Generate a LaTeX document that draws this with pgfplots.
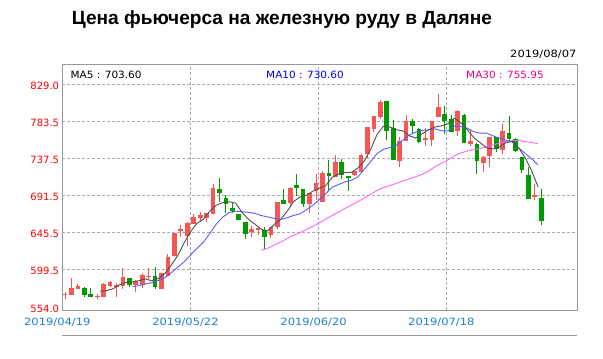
\documentclass[border=0pt]{standalone}
\usepackage{pgfplots}
\pgfplotsset{compat=1.18}
\usepackage{pgfplotstable}
\usepackage{fontspec}
\setmainfont{Liberation Sans}
\newfontfamily\labfont{DejaVu Sans}
\newfontfamily\datefont[FakeStretch=1.15]{DejaVu Sans}
\newfontfamily\legfont[FakeStretch=1.05]{DejaVu Sans}
\definecolor{cred}{RGB}{246,86,86}
\definecolor{cgreen}{RGB}{0,155,0}
\definecolor{boxgray}{RGB}{153,153,153}
\definecolor{gridgray}{RGB}{170,170,170}
\definecolor{datecol}{RGB}{30,128,208}
\definecolor{ma5col}{RGB}{80,80,80}
\definecolor{ma10col}{RGB}{90,90,255}
\definecolor{ma30col}{RGB}{255,100,255}

% up candles (close >= open)
\pgfplotstableread{
i o h l c
0 569.0 572.8 563.4 570.2
1 569.1 589.3 568.5 577.4
2 576.5 582.3 575.7 580.2
5 567.0 569.5 563.4 567.8
6 566.7 583.0 566.0 582.3
7 579.8 586.4 579.0 584.8
8 578.2 584.0 566.7 581.5
9 579.8 601.7 575.7 590.9
11 581.5 587.3 572.8 585.6
12 581.5 596.3 577.0 593.0
13 591.5 601.7 588.5 591.9
15 576.5 596.0 576.0 595.9
16 592.2 619.0 592.0 615.7
17 616.9 645.5 616.5 645.3
18 648.2 654.8 640.0 650.2
19 642.0 658.5 629.7 658.1
20 656.8 669.2 656.5 665.1
21 664.3 670.9 659.3 667.5
22 664.3 670.2 658.5 670.0
23 669.2 706.3 669.0 700.9
29 646.5 654.0 640.8 650.2
30 649.8 654.0 643.0 651.9
32 643.2 652.7 639.6 652.7
33 652.3 683.6 650.7 683.6
35 681.9 702.5 677.8 700.9
38 681.5 694.7 670.4 694.7
39 697.2 717.8 685.7 706.7
40 684.0 722.3 684.0 719.4
42 714.9 741.2 714.9 733.4
45 716.5 722.0 715.7 721.9
46 721.1 742.5 721.0 741.2
47 742.9 776.7 737.6 776.7
48 774.2 790.0 770.5 789.8
49 788.0 810.0 786.0 807.5
52 734.2 763.9 726.8 759.0
53 759.4 791.1 759.4 783.2
56 761.4 774.6 753.2 761.8
57 760.6 783.7 753.2 783.7
58 789.0 817.4 789.0 801.0
61 770.9 797.2 765.5 796.0
63 755.2 773.8 753.2 759.0
65 732.2 740.4 720.2 739.2
66 740.8 763.5 727.2 763.5
68 748.3 779.6 743.3 771.3
73 689.4 705.8 686.1 692.6
}\uptab

% down candles (close < open)
\pgfplotstableread{
i o h l c
3 577.4 579.0 566.7 569.1
4 570.0 577.0 566.7 566.7
10 589.7 589.7 578.2 581.5
14 592.2 602.9 575.7 579.0
24 699.7 713.3 684.0 694.3
25 688.9 692.0 669.6 681.5
26 676.6 682.0 669.6 672.9
27 668.8 669.0 661.0 661.8
28 658.9 659.0 638.3 644.5
31 648.6 653.1 624.3 640.8
34 686.1 699.7 681.5 681.5
36 704.2 717.8 691.0 701.3
37 699.7 699.7 677.0 681.5
41 719.4 735.1 698.4 715.7
43 733.4 736.7 712.4 716.5
44 715.7 715.7 696.8 714.1
50 808.4 808.4 760.2 771.7
51 775.4 784.9 735.9 735.9
54 783.7 786.1 768.4 777.1
55 773.8 775.0 757.0 758.1
59 792.3 802.2 767.2 784.1
60 785.7 791.1 770.5 770.5
62 791.1 792.3 756.1 756.1
64 754.8 756.1 717.8 734.6
67 763.5 763.5 745.8 749.1
69 768.4 789.8 759.4 761.4
70 761.4 763.1 745.8 747.0
71 739.2 739.2 719.0 723.5
72 716.9 727.2 687.7 687.7
74 688.5 699.7 655.2 660.5
}\downtab

\pgfplotsset{candle/.style={no markers, draw=none, forget plot,
  error bars/.cd, y dir=both, y explicit, error mark=none}}

\begin{document}
\begin{tikzpicture}
\begin{axis}[
  at={(62.3pt,-310pt)}, anchor=south west,
  scale only axis, width=515pt, height=245.7pt,
  xmin=-0.42, xmax=79.6, ymin=550.2, ymax=853.7,
  axis line style={draw=boxgray, line width=1pt},
  major tick length=0pt,
  xtick={19.5,39.4,59.25},
  xticklabels={2019/05/22,2019/06/20,2019/07/18},
  extra x ticks={-0.42}, extra x tick labels={2019/04/19},
  extra x tick style={grid=none},
  ytick={599.8333,645.6667,691.5,737.3333,783.1667,829},
  yticklabels={599.5,645.5,691.5,737.5,783.5,829.0},
  extra y ticks={554}, extra y tick labels={554.0},
  extra y tick style={grid=none},
  xmajorgrids, ymajorgrids,
  major grid style={gridgray, dash pattern=on 3pt off 2pt, line width=0.8pt},
  yticklabel style={font=\labfont\fontsize{10}{12}\selectfont, text=red, anchor=east, inner sep=0pt, xshift=-3pt, yshift=-1.5pt},
  xticklabel style={font=\datefont\fontsize{10}{12}\selectfont, text=datecol, anchor=base, inner sep=0pt, yshift=-15.7pt, xshift=-5pt},
]
% wicks
\addplot[candle, error bar style={draw=cred, line width=1pt}]
  table[x=i, y expr={(\thisrow{h}+\thisrow{l})/2}, y error expr={(\thisrow{h}-\thisrow{l})/2}] {\uptab};
\addplot[candle, error bar style={draw=cgreen, line width=1pt}]
  table[x=i, y expr={(\thisrow{h}+\thisrow{l})/2}, y error expr={(\thisrow{h}-\thisrow{l})/2}] {\downtab};
% bodies
\addplot[candle, error bar style={draw=cred, line width=4.7pt}]
  table[x=i, y expr={(\thisrow{o}+\thisrow{c})/2}, y error expr={max(abs(\thisrow{c}-\thisrow{o})/2,0.7)}] {\uptab};
\addplot[candle, error bar style={draw=cgreen, line width=4.7pt}]
  table[x=i, y expr={(\thisrow{o}+\thisrow{c})/2}, y error expr={max(abs(\thisrow{c}-\thisrow{o})/2,0.7)}] {\downtab};
% MA30
\addplot[ma30col, line width=0.9pt, mark=none] coordinates {
(30.5,624.03) (31.5,626.45) (32.5,630.26) (33.5,634.09) (34.5,638.53) (35.5,642.49)
(36.5,645.72) (37.5,649.49) (38.5,653.35) (39.5,657.95) (40.5,662.28) (41.5,666.96)
(42.5,671.12) (43.5,675.62) (44.5,679.82) (45.5,684.0) (46.5,688.38) (47.5,693.04)
(48.5,698.02) (49.5,701.57) (50.5,703.85) (51.5,706.82) (52.5,709.56) (53.5,712.32)
(54.5,714.87) (55.5,717.84) (56.5,721.9) (57.5,727.12) (58.5,731.58) (59.5,735.53)
(60.5,740.71) (61.5,744.15) (62.5,746.67) (63.5,748.44) (64.5,749.71) (65.5,751.79)
(66.5,754.04) (67.5,756.59) (68.5,758.42) (69.5,759.34) (70.5,759.6) (71.5,758.07)
(72.5,757.28) (73.5,755.49)};
% MA10
\addplot[ma10col, line width=0.9pt, mark=none] coordinates {
(10.5,579.04) (11.5,580.32) (12.5,582.6) (13.5,583.83) (14.5,586.64) (15.5,589.98)
(16.5,596.03) (17.5,602.9) (18.5,609.62) (19.5,617.98) (20.5,626.17) (21.5,633.87)
(22.5,644.77) (23.5,656.3) (24.5,664.86) (25.5,670.58) (26.5,672.23) (27.5,671.66)
(28.5,670.87) (29.5,669.55) (30.5,666.88) (31.5,665.15) (32.5,663.42) (33.5,662.14)
(34.5,664.08) (35.5,666.92) (36.5,668.89) (37.5,673.91) (38.5,679.56) (39.5,686.31)
(40.5,693.8) (41.5,701.87) (42.5,705.16) (43.5,708.42) (44.5,710.52) (45.5,714.51)
(46.5,724.03) (47.5,733.54) (48.5,743.62) (49.5,748.85) (50.5,750.87) (51.5,753.43)
(52.5,760.1) (53.5,766.4) (54.5,770.02) (55.5,772.08) (56.5,772.78) (57.5,773.9)
(58.5,771.56) (59.5,771.44) (60.5,777.45) (61.5,777.16) (62.5,774.74) (63.5,770.49)
(64.5,768.6) (65.5,768.77) (66.5,765.31) (67.5,762.34) (68.5,760.07) (69.5,757.72)
(70.5,750.47) (71.5,743.63) (72.5,736.99) (73.5,729.58)};
% MA5
\addplot[ma5col, line width=0.9pt, mark=none] coordinates {
(5.5,573.22) (6.5,574.14) (7.5,576.62) (8.5,581.46) (9.5,584.2) (10.5,584.86)
(11.5,586.5) (12.5,588.58) (13.5,586.2) (14.5,589.08) (15.5,595.1) (16.5,605.56)
(17.5,617.22) (18.5,633.04) (19.5,646.88) (20.5,657.24) (21.5,662.18) (22.5,672.32)
(23.5,679.56) (24.5,682.84) (25.5,683.92) (26.5,682.28) (27.5,671.0) (28.5,662.18)
(29.5,656.26) (30.5,649.84) (31.5,648.02) (32.5,655.84) (33.5,662.1) (34.5,671.9)
(35.5,684.0) (36.5,689.76) (37.5,691.98) (38.5,697.02) (39.5,700.72) (40.5,703.6)
(41.5,713.98) (42.5,718.34) (43.5,719.82) (44.5,720.32) (45.5,725.42) (46.5,734.08)
(47.5,748.74) (48.5,767.42) (49.5,777.38) (50.5,776.32) (51.5,772.78) (52.5,771.46)
(53.5,765.38) (54.5,762.66) (55.5,767.84) (56.5,772.78) (57.5,776.34) (58.5,777.74)
(59.5,780.22) (60.5,787.06) (61.5,781.54) (62.5,773.14) (63.5,763.24) (64.5,756.98)
(65.5,750.48) (66.5,749.08) (67.5,751.54) (68.5,756.9) (69.5,758.46) (70.5,750.46)
(71.5,738.18) (72.5,722.44) (73.5,702.26)};
\end{axis}
\node[anchor=base west, inner sep=0pt, font=\bfseries\fontsize{19.1}{22}\selectfont] at (71.7pt,-24pt) {Цена фьючерса на железную руду в Даляне};
\node[anchor=base east, inner sep=0pt, font=\datefont\fontsize{10}{12}\selectfont] at (576.7pt,-57pt) {2019/08/07};
\node[anchor=base west, inner sep=0pt, font=\legfont\fontsize{10}{12}\selectfont, text=black] at (70.4pt,-78pt) {MA5 : 703.60};
\node[anchor=base west, inner sep=0pt, font=\legfont\fontsize{10}{12}\selectfont, text=blue] at (266pt,-78pt) {MA10 : 730.60};
\node[anchor=base west, inner sep=0pt, font=\legfont\fontsize{10}{12}\selectfont, text=magenta] at (466pt,-78pt) {MA30 : 755.95};
\draw[boxgray, line width=1pt] (62.3pt,-335pt) -- (577.3pt,-335pt);
\pgfresetboundingbox
\path[use as bounding box] (0,0) rectangle (603pt,-359pt);
\end{tikzpicture}
\end{document}
